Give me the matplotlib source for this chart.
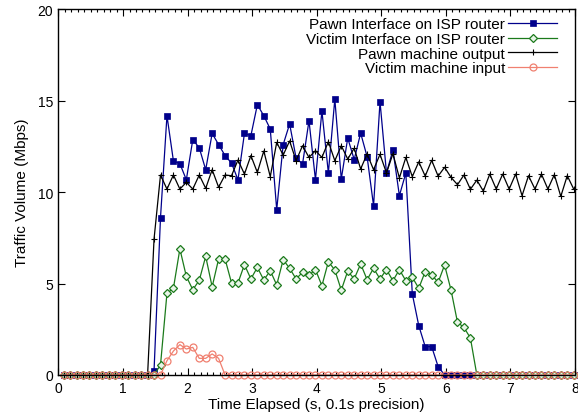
import matplotlib
matplotlib.use("Agg")
import matplotlib.pyplot as plt
import numpy as np

# sample times, one every 0.1 s
tiempo = np.round(0.08 + 0.1 * np.arange(80), 2)

pawn_isp = [0] * 14 + [
    0.24, 8.6, 14.17, 11.7, 11.55, 10.67, 12.86, 12.42, 11.22, 13.2,
    12.59, 11.99, 11.58, 10.67, 13.2, 13.08, 14.77, 14.17, 13.44, 9.03,
    12.59, 13.72, 11.86, 11.53, 13.9, 10.67, 14.43, 11.04, 15.08, 10.71,
    12.95, 11.77, 13.22, 11.93, 9.25, 14.94, 11.04, 12.3, 9.8, 11.04,
    4.43, 2.7, 1.55, 1.55, 0.46,
] + [0] * 21

victim_isp = [0] * 15 + [
    0.55, 4.46, 4.74, 6.89, 5.39, 4.66, 5.17, 6.48, 4.82, 6.34,
    6.34, 5.03, 5.03, 6.03, 5.25, 5.88, 5.19, 5.7, 4.92, 6.3,
    5.83, 5.25, 5.61, 5.46, 5.76, 4.88, 6.19, 5.74, 4.64, 5.68,
    5.25, 6.07, 5.21, 5.83, 5.25, 5.76, 5.15, 5.76, 5.15, 5.34,
    4.74, 5.65, 5.48, 5.06, 6.01, 4.64, 2.88, 2.6, 2.02,
] + [0] * 16

pawn_out = [0] * 14 + [
    7.43, 10.93, 10.16, 10.93, 10.16, 10.53, 10.16, 10.93, 10.2, 11.22,
    10.26, 10.93, 10.89, 11.75, 10.98, 11.99, 11.07, 12.24, 10.84, 12.71,
    12.02, 12.79, 11.71, 12.53, 11.89, 12.26, 11.89, 12.75, 11.71, 12.53,
    11.8, 12.39, 11.26, 12.08, 11.22, 12.06, 11.04, 12.09, 10.77, 11.89,
    10.84, 11.65, 10.87, 11.73, 10.87, 11.35, 10.8, 10.4, 10.93, 10.15,
    10.65, 10.05, 10.98, 10.16, 10.98, 10.16, 10.98, 9.8, 10.89, 10.16,
    10.98, 10.16, 10.95, 9.76, 10.89, 10.16,
]

victim_in = [0] * 16 + [
    0.78, 1.31, 1.66, 1.42, 1.51, 0.91, 0.91, 1.15, 0.91,
] + [0] * 55

etiquetas = [
    "Pawn Interface on ISP router",
    "Victim Interface on ISP router",
    "Pawn machine output",
    "Victim machine input",
]

plt.rcParams["font.family"] = ["Liberation Sans", "DejaVu Sans"]
plt.rcParams["font.size"] = 10

fig = plt.figure(figsize=(5.78, 4.14), dpi=100)
ax = fig.add_axes([0.1012, 0.0918, 0.8936, 0.884])

ax.plot(tiempo, pawn_isp, color="#00008b", linewidth=0.9, marker="s",
        markersize=5, markeredgewidth=0.5, label=etiquetas[0], clip_on=False)
ax.plot(tiempo, victim_isp, color="#1b7a1b", linewidth=0.9, marker="D",
        markersize=3.6, markerfacecolor="#e8f4e8", markeredgewidth=0.9,
        label=etiquetas[1], clip_on=False)
ax.plot(tiempo, pawn_out, color="black", linewidth=0.9, marker="+",
        markersize=5, markeredgewidth=0.8, label=etiquetas[2], clip_on=False)
ax.plot(tiempo, victim_in, color="#f08070", linewidth=0.9, marker="o",
        markersize=5, markerfacecolor="none", markeredgewidth=0.9,
        label=etiquetas[3], clip_on=False)

ax.set_xlim(0, 8)
ax.set_ylim(0, 20)
ax.set_xticks(np.arange(0, 9, 1))
ax.set_xticks(np.arange(0, 8.01, 0.1), minor=True)
ax.set_yticks(np.arange(0, 21, 5))
ax.tick_params(which="both", direction="in", top=True, right=True, width=0.8)
ax.tick_params(which="major", length=5, pad=4)
ax.tick_params(which="minor", length=2.5)
for lado in ax.spines.values():
    lado.set_linewidth(1.0)

ax.set_xlabel("Time Elapsed (s, 0.1s precision)", fontsize=11, labelpad=2)
ax.set_ylabel("Traffic Volume (Mbps)", fontsize=11, labelpad=6)

ax.legend(loc="upper right", bbox_to_anchor=(0.977, 0.9945),
          markerfirst=False, frameon=False, handlelength=3.2,
          handletextpad=0.2, labelspacing=0.05, borderaxespad=0,
          fontsize=11)

fig.savefig("out.png", dpi=100)
